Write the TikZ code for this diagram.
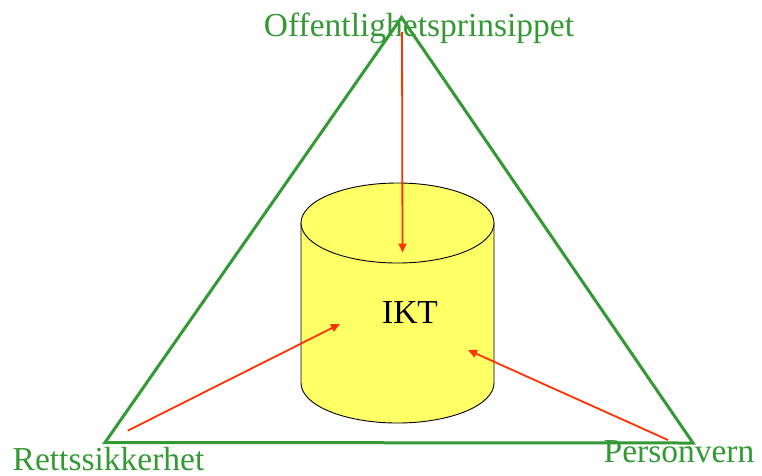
\documentclass[tikz,border=0pt]{standalone}
\usepackage{fontspec}
\setmainfont{Liberation Serif}
\definecolor{framegreen}{RGB}{51,153,51}
\definecolor{arrowred}{RGB}{255,51,0}
\definecolor{drumyellow}{RGB}{255,255,102}
\usetikzlibrary{arrows.meta,positioning}

\begin{document}
\begin{tikzpicture}[
    x=1pt, y=-1pt,
    corner/.style={font=\fontsize{33.5}{40}\selectfont, text=framegreen, anchor=base, inner sep=0pt},
    frame/.style={draw=framegreen, line width=3pt},
    drum/.style={draw=black, line width=0.9pt, fill=drumyellow},
    arrow/.style={-{Triangle[length=9pt,width=8pt]}, draw=arrowred, line width=1.8pt}
]
\useasboundingbox (0,0) rectangle (762,475);

\coordinate (apex) at (401.5,17.5);
\coordinate (left) at (105,442.5);
\coordinate (right) at (693,443);
\draw[frame] (apex) -- (left) -- (right) -- cycle;

% database drum
\fill[drumyellow] (301,223) -- (301,383) arc[start angle=180, end angle=0, x radius=96.5, y radius=40] -- (494,223) -- cycle;
\draw[black, line width=0.9pt] (301,223) -- (301,383) arc[start angle=180, end angle=0, x radius=96.5, y radius=40] -- (494,223);
\draw[drum] (397.5,223) ellipse[x radius=96.5, y radius=40];
\node[font=\fontsize{33.5}{40}\selectfont, anchor=base, inner sep=0pt] (ikt) at (410,323) {IKT};

\node[corner] (offentlig) at (419,36.7) {Offentlighetsprinsippet};
\node[corner] (retts) at (108.5,470) {Rettssikkerhet};
\node[corner] (person) at (679,462.7) {Personvern};

\coordinate (offStart) at (402,32);
\coordinate (offEnd) at (402.5,252.5);
\coordinate (rettStart) at (127.7,430.7);
\coordinate (rettEnd) at (340,324);
\coordinate (persStart) at (668,440);
\coordinate (persEnd) at (468,350);

\draw[arrow] (offStart) -- (offEnd);
\draw[arrow] (rettStart) -- (rettEnd);
\draw[arrow] (persStart) -- (persEnd);

\end{tikzpicture}
\end{document}
